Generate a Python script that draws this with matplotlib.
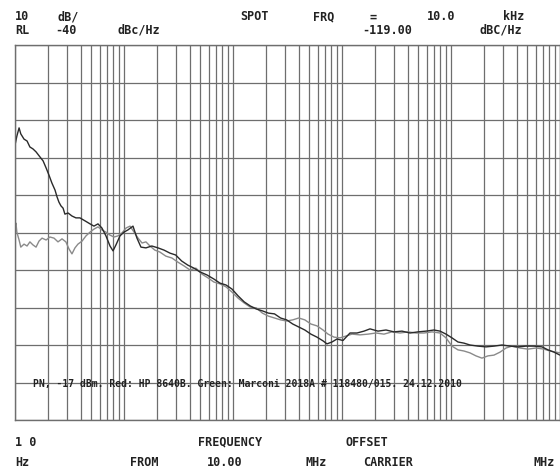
import numpy as np
import matplotlib
matplotlib.use("Agg")
import matplotlib.pyplot as plt
from matplotlib.ticker import LogLocator, MultipleLocator, NullFormatter

# offset frequency (Hz) / phase noise (dBc/Hz), HP 8640B
hp_freq = [10, 10.4, 10.9, 11.3, 12.1, 12.9, 13.7, 14.6, 15.6, 17.0, 18.1, 19.3, 20.5, 21.8,
           23.3, 24.3, 25.3, 26.4, 27.6, 28.7, 30.7, 33.3, 36.2, 39.4, 43.9, 48.8, 53.0, 57.7,
           62.7, 68.3, 74.4, 79.3, 84.4, 91.9, 100, 108.8, 120.9, 131.5, 143.1, 159, 180, 205,
           233, 264, 298, 338, 385, 438, 497, 575, 667, 759, 863, 980, 1113, 1267, 1441, 1636,
           1861, 2113, 2403, 2731, 3105, 3530, 4011, 4559, 5183, 5891, 6697, 7280, 8090, 8995,
           10210, 11840, 13740, 15920, 18070, 21390, 25330, 29990, 35500, 42060, 49800, 58990,
           69820, 79270, 89990, 102100, 115900, 131500, 149300, 176900, 209400, 247800, 293800,
           347600, 412100, 487500, 576800, 683900, 776200, 881000, 1000000]
hp_pn = [-66.7, -64.3, -62.1, -63.7, -65.1, -65.6, -67.2, -67.7, -68.5, -69.9, -70.9, -72.8, -74.7,
         -76.8, -78.7, -80.5, -81.9, -82.9, -83.5, -85.1, -84.8, -85.6, -86.1, -86.1, -86.9,
         -87.7, -88.3, -87.7, -88.8, -90.9, -93.6, -94.9, -93.3, -90.9, -89.9, -89.3, -88.3,
         -91.5, -93.9, -94.1, -93.6, -94.1, -94.7, -95.5, -96.0, -97.6, -98.7, -99.5, -100.5,
         -101.3, -102.4, -103.5, -104.0, -105.1, -106.9, -108.5, -109.6, -110.4, -110.9, -111.5,
         -111.7, -112.8, -113.3, -114.4, -115.2, -116.0, -117.1, -117.9, -118.9, -119.7, -119.2,
         -118.4, -118.8, -116.8, -116.8, -116.3, -115.7, -116.3, -116.0, -116.5, -116.3, -116.8,
         -116.5, -116.3, -116.0, -116.3, -117.1, -118.1, -119.2, -119.5, -120.0, -120.3, -120.5,
         -120.3, -120.0, -120.3, -120.5, -120.3, -120.3, -120.5, -121.3, -121.9, -122.7]

# Marconi 2018A
mi_freq = [10, 10.2, 10.4, 10.9, 11.3, 12.1, 12.9, 13.7, 14.6, 15.6, 16.6, 17.7, 19.3, 20.9, 22.8,
           24.8, 27.0, 29.3, 31.3, 33.3, 35.5, 37.8, 41.2, 44.8, 48.8, 53.0, 57.7, 62.7, 68.3,
           74.4, 80.9, 88.1, 95.9, 104.4, 113.6, 123.7, 134.6, 146.4, 159, 173, 192, 213, 242,
           275, 312, 355, 403, 457, 519, 589, 667, 759, 863, 980, 1113, 1267, 1441, 1636, 1861,
           2113, 2403, 2731, 3105, 3530, 4011, 4559, 5183, 5891, 6697, 7447, 8450, 9590, 10890,
           12360, 14630, 17330, 20510, 24280, 28770, 34040, 40360, 47750, 56490, 66990, 79270,
           89990, 102100, 115900, 131500, 149300, 169400, 192300, 218300, 247800, 281800,
           319900, 363100, 429500, 508200, 602600, 712900, 809100, 918300, 1000000]
mi_pn = [-88.5, -87.5, -89.9, -92.0, -93.9, -93.1, -93.6, -92.5, -93.3, -93.9, -92.3, -91.5, -92.0,
         -91.2, -91.5, -92.5, -91.7, -92.5, -94.4, -95.7, -94.1, -93.1, -92.3, -90.9, -89.9,
         -89.1, -88.5, -89.3, -89.9, -90.7, -91.2, -90.9, -90.1, -88.8, -88.3, -89.9, -91.5,
         -92.8, -92.5, -93.6, -94.7, -95.2, -96.3, -96.8, -97.9, -98.9, -100.0, -99.5, -101.1,
         -102.1, -103.2, -103.7, -104.5, -105.9, -107.5, -108.8, -109.9, -110.1, -111.5, -112.3,
         -112.8, -113.3, -113.6, -113.3, -112.8, -113.3, -114.4, -114.9, -116.0, -117.1, -117.9,
         -118.1, -117.6, -117.1, -117.3, -117.1, -116.8, -117.1, -116.5, -116.8, -116.5, -116.8,
         -116.8, -116.5, -116.8, -118.1, -120.3, -121.3, -121.6, -122.1, -122.9, -123.5, -122.9,
         -122.7, -121.9, -120.8, -120.3, -120.8, -121.1, -120.8, -121.1, -121.6, -121.9, -122.1]

W, H = 560, 470
fig = plt.figure(figsize=(W / 100, H / 100), dpi=100)
ax = fig.add_axes([15 / W, 50 / H, 545 / W, 375 / H])

ax.plot(mi_freq, mi_pn, color="#8a8a8a", lw=1.0)
ax.plot(hp_freq, hp_pn, color="#2a2a2a", lw=1.0)

ax.set_xscale("log")
ax.set_xlim(10, 1e6)
ax.set_ylim(-140, -40)
ax.xaxis.set_major_locator(LogLocator(base=10, numticks=10))
ax.xaxis.set_minor_locator(LogLocator(base=10, subs=np.arange(2, 10), numticks=100))
ax.xaxis.set_minor_formatter(NullFormatter())
ax.yaxis.set_major_locator(MultipleLocator(10))
ax.grid(True, which="both", axis="x", color="#6e6e6e", lw=0.9)
ax.grid(True, which="major", axis="y", color="#6e6e6e", lw=0.9)
ax.tick_params(which="both", length=0, labelbottom=False, labelleft=False)
for s in ax.spines.values():
    s.set_color("#6e6e6e")
    s.set_linewidth(1.0)

ax.text(0.033, 0.095, "PN, -17 dBm. Red: HP 8640B. Green: Marconi 2018A # 118480/015. 24.12.2010",
        transform=ax.transAxes, family="DejaVu Sans Mono", weight="bold", fontsize=7,
        va="center", ha="left", color="#222222")

font = dict(family="DejaVu Sans Mono", weight="bold", fontsize=8.5, color="#222222",
            va="center", ha="left")
header = [("10", 15, 17), ("dB/", 57, 17), ("SPOT", 240, 17), ("FRQ", 313, 17),
          ("=", 370, 17), ("10.0", 427, 17), ("kHz", 503, 17),
          ("RL", 15, 30), ("-40", 55, 30), ("dBc/Hz", 118, 30),
          ("-119.00", 362, 30), ("dBC/Hz", 480, 30),
          ("1 0", 15, 442), ("FREQUENCY", 198, 442), ("OFFSET", 345, 442),
          ("Hz", 15, 463), ("FROM", 130, 463), ("10.00", 207, 463), ("MHz", 305, 463),
          ("CARRIER", 363, 463), ("MHz", 533, 463)]
for txt, x, y in header:
    fig.text(x / W, 1 - y / H, txt, **font)

fig.savefig("out.png", dpi=100)
